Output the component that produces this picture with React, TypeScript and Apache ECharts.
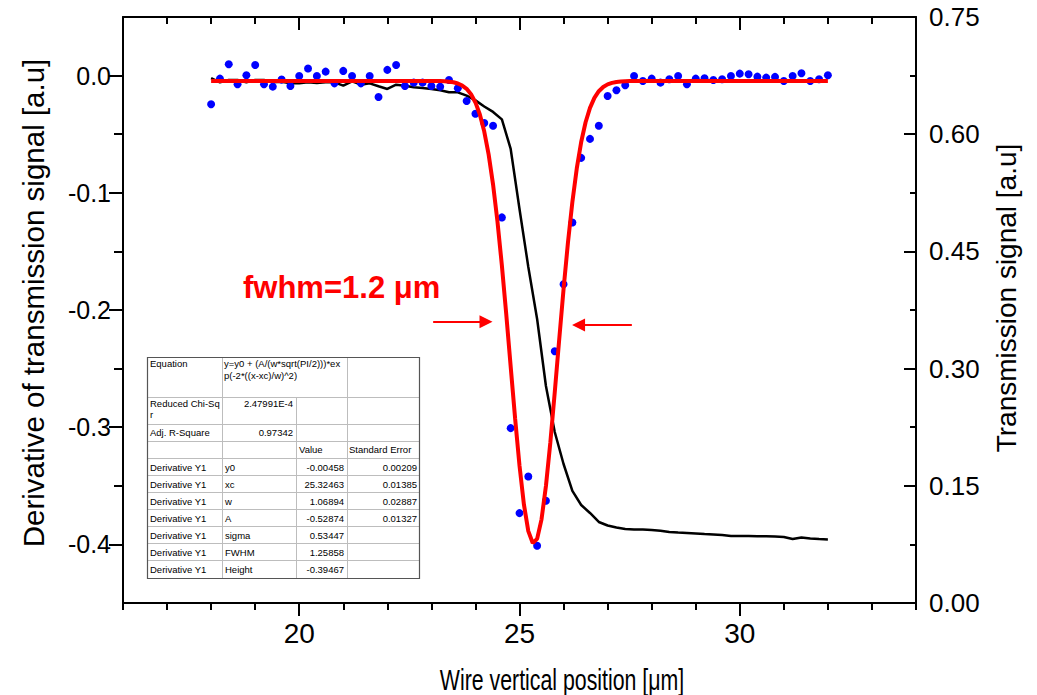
import React, { useEffect, useRef } from "react";
import * as echarts from "echarts";

// ---- data ----
const positions = [
  18.0, 18.2, 18.4, 18.6, 18.8, 19.0, 19.2, 19.4, 19.6, 19.8,
  20.0, 20.2, 20.4, 20.6, 20.8, 21.0, 21.2, 21.4, 21.6, 21.8,
  22.0, 22.2, 22.4, 22.6, 22.8, 23.0, 23.2, 23.4, 23.6, 23.8,
  24.0, 24.2, 24.4, 24.6, 24.8, 25.0, 25.2, 25.4, 25.6, 25.8,
  26.0, 26.2, 26.4, 26.6, 26.8, 27.0, 27.2, 27.4, 27.6, 27.8,
  28.0, 28.2, 28.4, 28.6, 28.8, 29.0, 29.2, 29.4, 29.6, 29.8,
  30.0, 30.2, 30.4, 30.6, 30.8, 31.0, 31.2, 31.4, 31.6, 31.8,
  32.0,
];

const derivative = [
  -0.0245, -0.0026, 0.0097, -0.0074, 0.0003, 0.0091, -0.0074, -0.0094, -0.0034, -0.0088,
  -0.0003, 0.006, -0.0003, 0.0034, -0.0066, 0.004, -0.0003, -0.0066, -0.0003, -0.0183,
  0.0049, 0.0091, -0.0088, -0.006, -0.006, -0.0088, -0.0094, -0.0037, -0.0108, -0.0217,
  -0.0325, -0.0405, -0.0428, -0.121, -0.3008, -0.3733, -0.342, -0.4012, -0.3627, -0.2352,
  -0.1781, -0.1253, -0.0702, -0.054, -0.0428, -0.0174, -0.0125, -0.0083, -0.0003, -0.0046,
  -0.0026, -0.006, -0.0031, -0.0003, -0.0074, -0.0026, -0.0023, -0.0037, -0.0031, -0.0003,
  0.0017, 0.0011, -0.0009, -0.0017, -0.0011, -0.0046, -0.0003, 0.002, -0.0046, -0.0031,
  0.0003,
];

const transmission = [
  0.6719, 0.6664, 0.6694, 0.6694, 0.6664, 0.6694, 0.6694, 0.6664, 0.667, 0.6651,
  0.6651, 0.6664, 0.6656, 0.6664, 0.6664, 0.6621, 0.6677, 0.6634, 0.6651, 0.6613,
  0.6579, 0.6634, 0.6621, 0.66, 0.6592, 0.6579, 0.6562, 0.6536, 0.6536, 0.6493,
  0.6433, 0.6355, 0.6285, 0.619, 0.5811, 0.5043, 0.4301, 0.3635, 0.2777, 0.2189,
  0.1779, 0.1434, 0.1254, 0.1152, 0.1037, 0.0992, 0.0966, 0.0947, 0.0941, 0.0941,
  0.0934, 0.0925, 0.0909, 0.0902, 0.0896, 0.089, 0.0883, 0.0877, 0.087, 0.0858,
  0.0858, 0.0858, 0.0854, 0.0854, 0.0851, 0.0845, 0.0819, 0.0838, 0.0826, 0.0819,
  0.0813,
];

const fitX = [
  18.0, 23.0, 23.1, 23.2, 23.3, 23.4, 23.5, 23.6, 23.7, 23.8, 23.9,
  24.0, 24.1, 24.2, 24.3, 24.4, 24.5, 24.6, 24.7, 24.8, 24.9,
  25.0, 25.1, 25.2, 25.3, 25.4, 25.5, 25.6, 25.7, 25.8, 25.9,
  26.0, 26.1, 26.2, 26.3, 26.4, 26.5, 26.6, 26.7, 26.8, 26.9,
  27.0, 27.1, 27.2, 27.3, 27.4, 27.5, 27.6, 32.0,
];
const fitY = [
  -0.0046, -0.0046, -0.0047, -0.0047, -0.0049, -0.0052, -0.0057, -0.0067, -0.0085, -0.0113, -0.0159,
  -0.0229, -0.0332, -0.0477, -0.0674, -0.093, -0.1246, -0.162, -0.204, -0.2484, -0.2924,
  -0.3328, -0.3659, -0.3887, -0.3988, -0.3953, -0.3786, -0.3502, -0.313, -0.2703, -0.2257,
  -0.1822, -0.1424, -0.1078, -0.0792, -0.0567, -0.0398, -0.0275, -0.019, -0.0133, -0.0097,
  -0.0075, -0.0062, -0.0054, -0.005, -0.0048, -0.0047, -0.0046, -0.0046,
];

const xMajorTicks = [20, 25, 30];
const leftMajorTicks = [-0.4, -0.3, -0.2, -0.1, 0];
const leftMinorTicks = [-0.35, -0.25, -0.15, -0.05];

// arrows marking the FWHM: [fromX, toX, y]
const fwhmArrows = [
  [23.04, 24.24, -0.21],
  [27.55, 26.34, -0.2128],
];
const fwhmLabel = "fwhm=1.2 \u03bcm";

const xTitle = "Wire vertical position [\u03bcm]";
const leftTitle = "Derivative of transmission signal [a.u]";
const rightTitle = "Transmission signal [a.u]";

// fit table
const equationLines = ["y=y0 + (A/(w*sqrt(PI/2)))*ex", "p(-2*((x-xc)/w)^2)"];
const reducedChiSq = "2.47991E-4";
const adjRSquare = "0.97342";
const paramNames = ["y0", "xc", "w", "A", "sigma", "FWHM", "Height"];
const paramValues = ["-0.00458", "25.32463", "1.06894", "-0.52874", "0.53447", "1.25858", "-0.39467"];
const paramErrors = ["0.00209", "0.01385", "0.02887", "0.01327", "", "", ""];

const FONT = "'Liberation Sans', Arial, sans-serif";

function buildTable(): any[] {
  const cols = [147, 222, 296, 347, 419];
  const rows = [357, 397, 424, 441, 458, 475, 492, 509, 526, 543, 560, 578];
  const els: any[] = [];
  const L = cols[0], R = cols[4], T = rows[0], B = rows[rows.length - 1];
  els.push({ type: "rect", shape: { x: L + 0.5, y: T + 0.5, width: R - L, height: B - T }, style: { fill: "#fff", stroke: "none" } });
  const grey = "#bdbdbd";
  for (let i = 1; i < rows.length - 1; i++) {
    els.push({ type: "line", shape: { x1: L, y1: rows[i] + 0.5, x2: R, y2: rows[i] + 0.5 }, style: { stroke: grey, lineWidth: 1 } });
  }
  els.push({ type: "line", shape: { x1: cols[1] + 0.5, y1: T, x2: cols[1] + 0.5, y2: B }, style: { stroke: grey, lineWidth: 1 } });
  els.push({ type: "line", shape: { x1: cols[2] + 0.5, y1: rows[1], x2: cols[2] + 0.5, y2: B }, style: { stroke: grey, lineWidth: 1 } });
  els.push({ type: "line", shape: { x1: cols[3] + 0.5, y1: T, x2: cols[3] + 0.5, y2: B }, style: { stroke: grey, lineWidth: 1 } });
  els.push({ type: "rect", shape: { x: L + 0.5, y: T + 0.5, width: R - L, height: B - T }, style: { fill: "none", stroke: "#555", lineWidth: 1.2 } });

  const t = (text: string, x: number, y: number, align = "left") => ({
    type: "text",
    x,
    y,
    style: { text, fill: "#000", font: `9.5px ${FONT}`, align, verticalAlign: "middle" },
  });
  els.push(t("Equation", 150, 363));
  els.push(t(equationLines[0], 224, 363));
  els.push(t(equationLines[1], 224, 375));
  els.push(t("Reduced Chi-Sq", 150, 403));
  els.push(t("r", 150, 414));
  els.push(t(reducedChiSq, 293, 403, "right"));
  els.push(t("Adj. R-Square", 150, 432.5));
  els.push(t(adjRSquare, 293, 432.5, "right"));
  els.push(t("Value", 299, 449.5));
  els.push(t("Standard Error", 349, 449.5));
  for (let i = 0; i < paramNames.length; i++) {
    const cy = (rows[4 + i] + rows[5 + i]) / 2 + 0.5;
    els.push(t("Derivative Y1", 150, cy));
    els.push(t(paramNames[i], 225, cy));
    els.push(t(paramValues[i], 344, cy, "right"));
    if (paramErrors[i]) els.push(t(paramErrors[i], 417, cy, "right"));
  }
  return els;
}

export default function App() {
  const ref = useRef<HTMLDivElement>(null);
  useEffect(() => {
    if (!ref.current) return;
    const chart = echarts.init(ref.current, undefined, { renderer: "svg" });
    const axisLine = { show: true, onZero: false, lineStyle: { color: "#000", width: 2 } };
    const noLine = { show: false, onZero: false };
    const tickStyle = { color: "#000", width: 2 };
    const range = { min: 16, max: 34 };
    const option: any = {
      animation: false,
      backgroundColor: "#fff",
      grid: { left: 123, right: 121, top: 17, bottom: 92 },
      xAxis: [
        {
          type: "value", position: "bottom", ...range, interval: 1,
          axisLine, splitLine: { show: false },
          axisTick: { show: true, length: 7, lineStyle: tickStyle },
          axisLabel: {
            show: true, margin: 16, color: "#000", fontSize: 28, fontFamily: FONT,
            formatter: (v: number) => (xMajorTicks.includes(v) ? String(v) : ""),
          },
        },
        {
          type: "value", position: "bottom", ...range, interval: 1,
          axisLine: noLine, splitLine: { show: false }, axisLabel: { show: false },
          axisTick: { show: true, length: 13, customValues: xMajorTicks, lineStyle: tickStyle },
        },
        {
          type: "value", position: "top", ...range, interval: 1,
          axisLine, splitLine: { show: false }, axisLabel: { show: false },
          axisTick: { show: true, inside: true, length: 7, lineStyle: tickStyle },
        },
        {
          type: "value", position: "top", ...range, interval: 1,
          axisLine: noLine, splitLine: { show: false }, axisLabel: { show: false },
          axisTick: { show: true, inside: true, length: 13, customValues: xMajorTicks, lineStyle: tickStyle },
        },
      ],
      yAxis: [
        {
          type: "value", position: "left", min: -0.45, max: 0.05, interval: 0.05,
          axisLine, splitLine: { show: false },
          axisTick: { show: true, length: 14, customValues: leftMajorTicks, lineStyle: tickStyle },
          axisLabel: {
            show: true, margin: 12, color: "#000", fontSize: 25, fontFamily: FONT,
            customValues: leftMajorTicks,
            formatter: (v: number) => (Math.abs(v) < 1e-9 ? "0.0" : v.toFixed(1)),
          },
        },
        {
          type: "value", position: "left", min: -0.45, max: 0.05, interval: 0.05,
          axisLine: noLine, splitLine: { show: false }, axisLabel: { show: false },
          axisTick: { show: true, length: 9, customValues: leftMinorTicks, lineStyle: tickStyle },
        },
        {
          type: "value", position: "right", min: 0, max: 0.75, interval: 0.15,
          axisLine, splitLine: { show: false },
          axisTick: { show: true, inside: true, length: 12, lineStyle: tickStyle },
          minorTick: { show: true, splitNumber: 2, length: 6, lineStyle: tickStyle },
          axisLabel: {
            show: true, margin: 13, color: "#000", fontSize: 26, fontFamily: FONT,
            formatter: (v: number) => v.toFixed(2),
          },
          name: rightTitle, nameLocation: "middle", nameRotate: 90, nameGap: 76,
          nameTextStyle: { color: "#000", fontSize: 28, fontFamily: FONT, padding: [0, 0, 0, 24] },
        },
      ],
      series: [
        {
          type: "line", name: "Transmission", xAxisIndex: 0, yAxisIndex: 2,
          data: positions.map((x, i) => [x, transmission[i]]),
          showSymbol: false, symbol: "none",
          lineStyle: { color: "#000", width: 2.5 }, z: 2,
        },
        {
          type: "scatter", name: "Derivative", xAxisIndex: 0, yAxisIndex: 0,
          data: positions.map((x, i) => [x, derivative[i]]),
          symbolSize: 8, itemStyle: { color: "#0000ff", opacity: 1 }, z: 3,
        },
        {
          type: "line", name: "Gauss fit", xAxisIndex: 0, yAxisIndex: 0,
          data: fitX.map((x, i) => [x, fitY[i]]),
          showSymbol: false, symbol: "none",
          lineStyle: { color: "#ff0000", width: 4 }, z: 4,
          markLine: {
            silent: true, animation: false,
            symbol: ["none", "triangle"], symbolSize: 13,
            label: { show: false },
            lineStyle: { color: "#ff0000", width: 2, type: "solid" },
            itemStyle: { color: "#ff0000" },
            data: fwhmArrows.map(([x0, x1, y]) => [{ coord: [x0, y] }, { coord: [x1, y] }]),
          },
        },
      ],
      graphic: [
        {
          type: "text", x: 243, y: 287, z: 50,
          style: { text: fwhmLabel, fill: "#ff0000", font: `bold 31px ${FONT}`, align: "left", verticalAlign: "middle" },
        },
        {
          type: "text", x: 562, y: 680, scaleX: 0.735, z: 50,
          style: { text: xTitle, fill: "#000", font: `29px ${FONT}`, align: "center", verticalAlign: "middle" },
        },
        {
          type: "text", x: 33, y: 303, rotation: Math.PI / 2, z: 50,
          style: { text: leftTitle, fill: "#000", font: `29.5px ${FONT}`, align: "center", verticalAlign: "middle" },
        },
        { type: "group", z: 60, children: buildTable() },
      ],
    };
    chart.setOption(option);
    return () => chart.dispose();
  }, []);
  return (
    <div
      ref={ref}
      style={{ position: "fixed", left: 0, top: 0, width: 1037, height: 695, background: "#fff" }}
    />
  );
}
